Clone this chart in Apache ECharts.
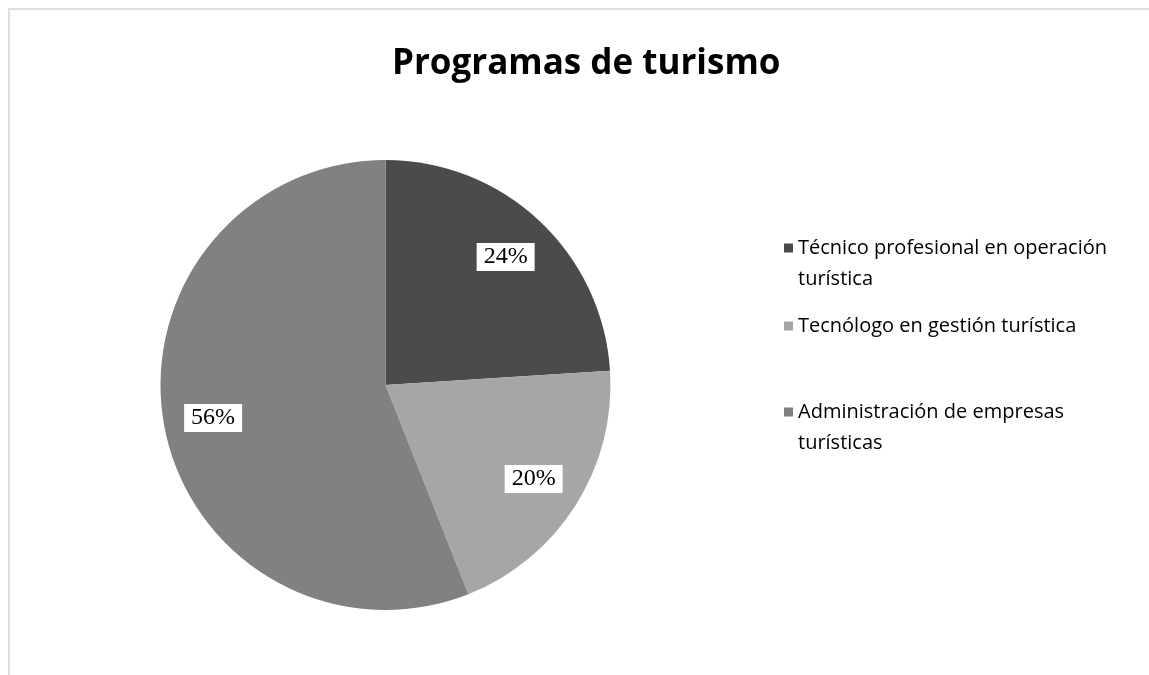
<!DOCTYPE html>
<html>
<head>
<meta charset="utf-8">
<script src="https://cdn.jsdelivr.net/npm/echarts@6/dist/echarts.min.js"></script>
<style>
html,body{margin:0;padding:0;background:#fff;}
#chart{width:1149px;height:675px;}
</style>
</head>
<body>
<div id="chart"></div>
<script>
const chartTitle = 'Programas de turismo';
const categories = [
  'Técnico profesional en operación turística',
  'Tecnólogo en gestión turística',
  'Administración de empresas turísticas'
];
const values = [24, 20, 56];
const colors = ['#4b4b4b', '#a6a6a6', '#818181'];

const data = categories.map((c, i) => ({ name: c, value: values[i], itemStyle: { color: colors[i] } }));
const overlayData = categories.map((c, i) => ({ name: c, value: values[i] }));

// icon for two-line legend entries: square sitting at the first line
const topSquareIcon = 'path://M0,0L9,0L9,9L0,9Z M0,40L0.01,40Z';
const twoLine = [true, false, true];
const legendTops = [232.5, 310.5, 396.5];
const legends = categories.map((c, i) => ({
  orient: 'vertical',
  left: 784,
  top: legendTops[i],
  padding: 0,
  icon: twoLine[i] ? topSquareIcon : 'rect',
  itemWidth: 9,
  itemHeight: twoLine[i] ? 40 : 9,
  selectedMode: false,
  data: [c],
  textStyle: {
    fontFamily: 'Open Sans',
    fontSize: 20,
    color: '#000',
    lineHeight: 31,
    width: 345,
    overflow: 'break'
  }
}));

const chart = echarts.init(document.getElementById('chart'), null, { renderer: 'canvas' });
chart.setOption({
  animation: false,
  backgroundColor: '#fff',
  title: {
    text: chartTitle,
    left: 387,
    top: 42,
    textStyle: { fontFamily: 'Open Sans', fontWeight: 'bold', fontSize: 35, color: '#000' }
  },
  graphic: [{
    type: 'rect',
    shape: { x: 9, y: 9, width: 1300, height: 800 },
    style: { fill: 'none', stroke: '#d6e0ef', lineWidth: 2 },
    silent: true
  }],
  legend: legends,
  series: [
    {
      type: 'pie',
      center: [385.5, 385],
      radius: 225,
      startAngle: 90,
      clockwise: true,
      data: data,
      label: { show: false },
      labelLine: { show: false },
      emphasis: { disabled: true },
      silent: true
    },
    {
      type: 'pie',
      center: [385.5, 385],
      radius: [120, 225],
      startAngle: 90,
      clockwise: true,
      data: overlayData,
      itemStyle: { color: 'rgba(0,0,0,0)' },
      label: {
        show: true,
        position: 'inside',
        formatter: '{c}%',
        fontFamily: 'Liberation Serif',
        fontSize: 24,
        color: '#000',
        backgroundColor: '#fff',
        padding: [3, 7, 1, 7]
      },
      labelLine: { show: false },
      emphasis: { disabled: true },
      silent: true
    }
  ]
});
</script>
</body>
</html>
